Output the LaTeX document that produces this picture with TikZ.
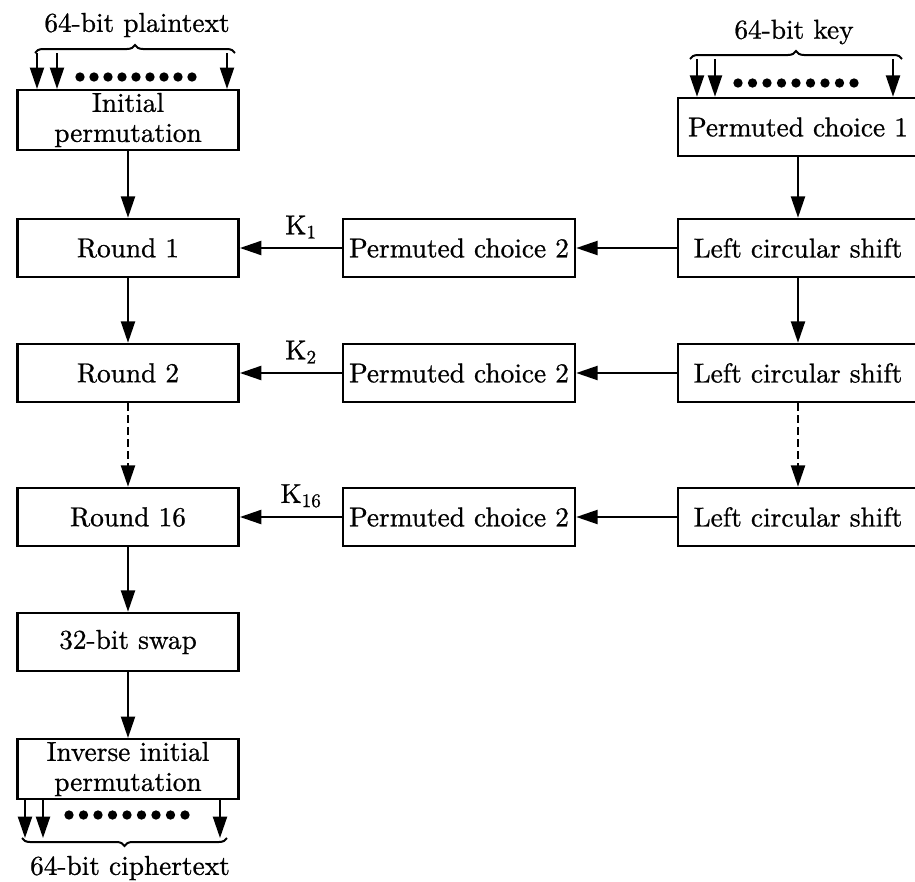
\documentclass[tikz,border=0pt]{standalone}
\usepackage{fontspec}
\setmainfont{lmroman10-regular.otf}[FakeBold=0.8]
\usepackage{tikz}
\usetikzlibrary{positioning,arrows.meta,decorations.pathreplacing}

\begin{document}
\begin{tikzpicture}[x=0.75pt, y=-0.75pt, every node/.style={font=\fontsize{20.5}{22.5}\selectfont},
    box/.style={draw, line width=1.9pt, minimum height=43.5pt, inner sep=2pt, align=center},
    lbox/.style={box, minimum width=166pt},
    mbox/.style={box, minimum width=174pt},
    rbox/.style={box, minimum width=180pt},
    flow/.style={-{Triangle[length=16pt,width=10.5pt]}, line width=1.6pt},
    bits/.style={decorate, decoration={brace, amplitude=6pt}, line width=1.5pt}]
    \useasboundingbox (0,0) rectangle (915,882);

    % Data path
    \node[lbox] (ip) at (128,120) {Initial\\permutation};
    \node[lbox] (r1) at (128,248) {Round 1};
    \node[lbox] (r2) at (128,373) {Round 2};
    \node[lbox] (r16) at (128,517) {Round 16};
    \node[lbox] (swap) at (128,642) {32-bit swap};
    \node[lbox] (iip) at (128,769) {Inverse initial\\permutation};

    % Key schedule
    \node[rbox] (pc1) at (798,127) {Permuted choice 1};
    \node[rbox] (lcs1) at (798,248) {Left circular shift};
    \node[rbox] (lcs2) at (798,373) {Left circular shift};
    \node[rbox] (lcs3) at (798,517) {Left circular shift};
    \node[mbox] (pc2a) at (459,248) {Permuted choice 2};
    \node[mbox] (pc2b) at (459,373) {Permuted choice 2};
    \node[mbox] (pc2c) at (459,517) {Permuted choice 2};

    % Inputs and output
    \node (ptext) at (137,25) {64-bit plaintext};
    \node (ktext) at (794,32) {64-bit key};
    \node (ctext) at (130,868) {64-bit ciphertext};
    \draw[bits] (35,53) -- (235,53);
    \draw[bits] (690,59) -- (902,59);
    \draw[bits] (227,838) -- (22,838);
    \foreach \x in {37,57,227}{
        \coordinate (p\x) at (\x,53);
        \draw[flow] (p\x) -- (p\x |- ip.north);
    }
    \foreach \x in {697,715,893}{
        \coordinate (k\x) at (\x,59);
        \draw[flow] (k\x) -- (k\x |- pc1.north);
    }
    \foreach \x in {25,43,220}{
        \coordinate (c\x) at (\x,838);
        \draw[flow] (c\x |- iip.south) -- (c\x);
    }
    \foreach \i in {0,...,8}{
        \fill (80+14*\i,77) circle (3.5pt);
        \fill (738+14.5*\i,83) circle (3.5pt);
        \fill (69+14.5*\i,815) circle (3.5pt);
    }

    % Rounds
    \draw[flow] (ip) -- (r1);
    \draw[flow] (r1) -- (r2);
    \draw[flow, dash pattern=on 6pt off 3pt] (r2) -- (r16);
    \draw[flow] (r16) -- (swap);
    \draw[flow] (swap) -- (iip);

    % Subkeys
    \draw[flow] (pc1) -- (lcs1);
    \draw[flow] (lcs1) -- (lcs2);
    \draw[flow, dash pattern=on 6pt off 3pt] (lcs2) -- (lcs3);
    \draw[flow] (lcs1) -- (pc2a);
    \draw[flow] (lcs2) -- (pc2b);
    \draw[flow] (lcs3) -- (pc2c);
    \draw[flow] (pc2a) -- (r1) node[pos=0.4, above=3pt] {K\textsubscript{1}};
    \draw[flow] (pc2b) -- (r2) node[pos=0.4, above=3pt] {K\textsubscript{2}};
    \draw[flow] (pc2c) -- (r16) node[pos=0.4, above=3pt] {K\textsubscript{16}};
\end{tikzpicture}
\end{document}
